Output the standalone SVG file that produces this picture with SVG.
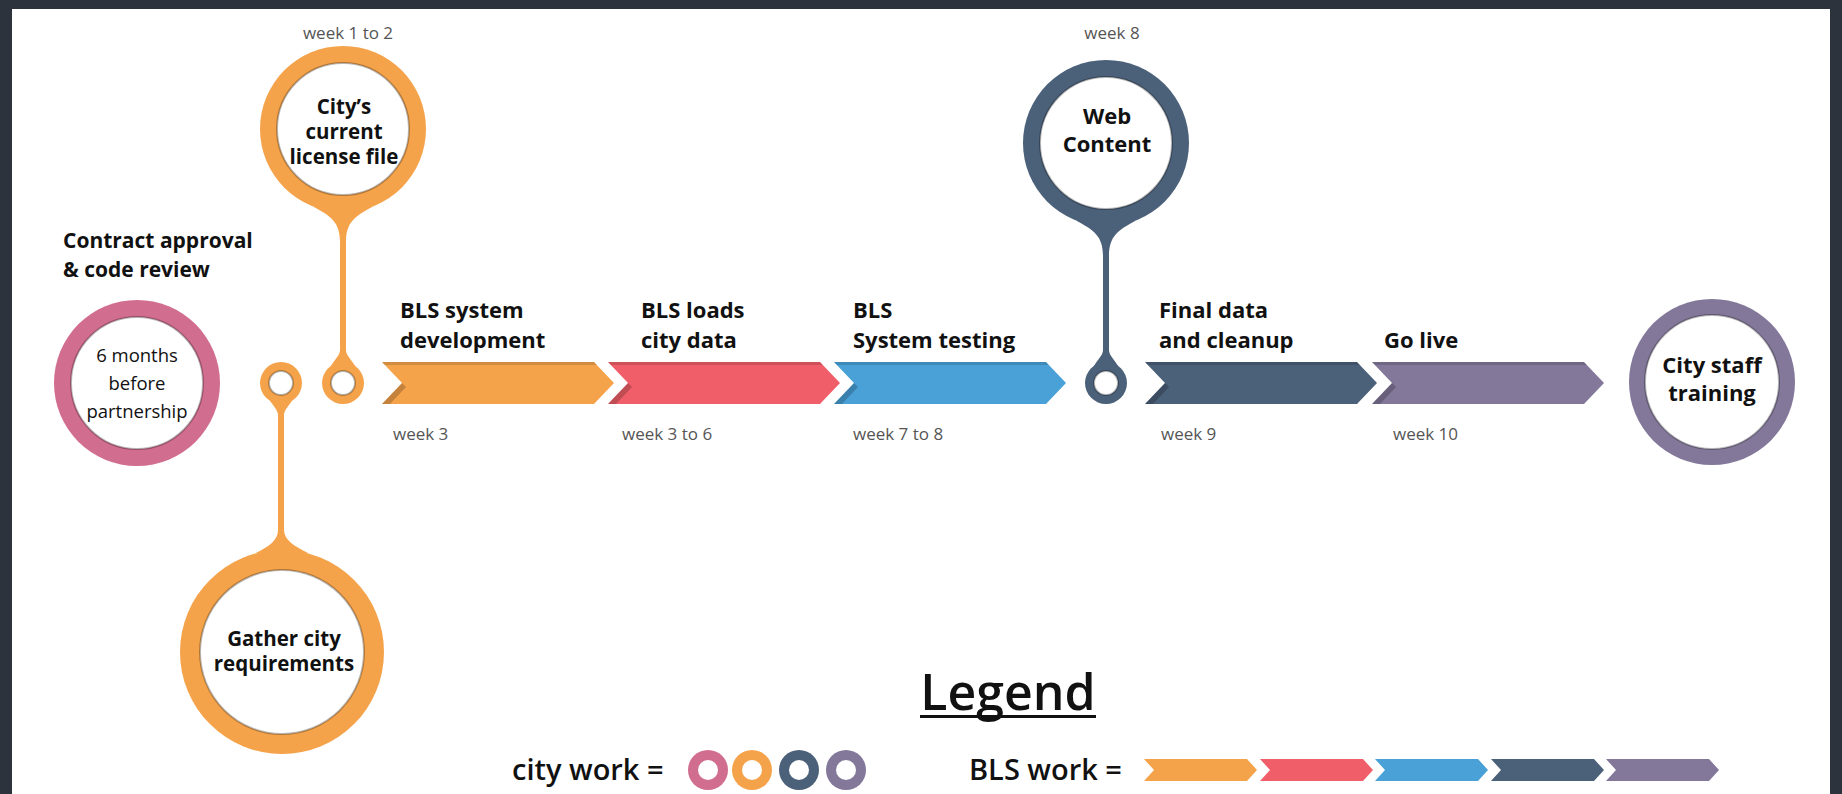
<svg xmlns="http://www.w3.org/2000/svg" width="1842" height="794" viewBox="0 0 1842 794">
<defs>
<style>
.lbl{font-family:"Open Sans","Liberation Sans",sans-serif;font-weight:700;fill:#111;}
.wk{font-family:"Open Sans","Liberation Sans",sans-serif;font-weight:400;fill:#555;font-size:17px;}
.ctr{text-anchor:middle;}
.in{fill:#fff;stroke:#000;stroke-opacity:0.28;stroke-width:2;}
.top{fill:#000;fill-opacity:0.14;}
.fold{fill:#000;fill-opacity:0.2;}
.or{fill:#F5A34B;} .rd{fill:#F05F69;} .bl{fill:#49A1D7;} .sl{fill:#4B6079;} .pu{fill:#83789A;} .pk{fill:#D16D8E;}
</style>
</defs>
<rect width="1842" height="794" fill="#2C333D"/>
<rect x="12" y="9" width="1818" height="785" fill="#fff"/>

<g id="connectors">
  <path class="or" d="M313,206.4 C331,216 340,222 340,242 L340,350 C340,355 335,359 331,366 L355,366 C351,359 346,355 346,350 L346,242 C346,222 355,216 373,206.4 Z"/>
  <path class="or" d="M269,399 C273,406 278,410 278,415 L278,530 C278,540 270,546 255,553.6 L309,553.6 C294,546 284,540 284,530 L284,415 C284,410 289,406 293,399 Z"/>
  <path class="sl" d="M1076,220.4 C1094,230 1103,236 1103,256 L1103,350 C1103,355 1098,359 1094,366 L1118,366 C1114,359 1109,355 1109,350 L1109,256 C1109,236 1118,230 1136,220.4 Z"/>
</g>

<g id="node-contract">
  <text class="lbl" x="63" y="248" font-size="21">Contract approval</text>
  <text class="lbl" x="63" y="277" font-size="21">&amp; code review</text>
  <circle class="pk" cx="137" cy="383" r="83"/>
  <circle class="in" cx="137" cy="383" r="66"/>
  <g class="wk ctr" style="fill:#111;font-size:18.5px">
    <text x="137" y="362">6 months</text>
    <text x="137" y="390">before</text>
    <text x="137" y="418">partnership</text>
  </g>
</g>

<g id="node-license">
  <text class="wk ctr" x="348" y="39">week 1 to 2</text>
  <circle class="or" cx="343" cy="129" r="83"/>
  <circle class="in" cx="343" cy="129" r="66"/>
  <g class="lbl ctr" font-size="20.5">
    <text x="344" y="114">City’s</text>
    <text x="344" y="139">current</text>
    <text x="344" y="164">license file</text>
  </g>
  <circle class="or" cx="343" cy="383" r="21"/>
  <circle class="in" cx="343" cy="383" r="12"/>
</g>

<g id="node-gather">
  <circle class="or" cx="281" cy="383" r="21"/>
  <circle class="in" cx="281" cy="383" r="12"/>
  <circle class="or" cx="282" cy="652" r="102"/>
  <circle class="in" cx="282" cy="652" r="82"/>
  <g class="lbl ctr" font-size="20.5">
    <text x="284" y="646">Gather city</text>
    <text x="284" y="671">requirements</text>
  </g>
</g>

<g id="node-dev">
  <polygon class="or" points="382,362 594,362 614,383 594,404 382,404 402,383"/>
  <polygon class="top" points="382,362 594,362 597,365 385,365"/>
  <polygon class="fold" points="402,383 382,404 390,404 406,387"/>
  <text class="lbl" x="400" y="318" font-size="22">BLS system</text>
  <text class="lbl" x="400" y="348" font-size="22">development</text>
  <text class="wk" x="393" y="440">week 3</text>
</g>

<g id="node-loads">
  <polygon class="rd" points="608,362 820,362 840,383 820,404 608,404 628,383"/>
  <polygon class="top" points="608,362 820,362 823,365 611,365"/>
  <polygon class="fold" points="628,383 608,404 616,404 632,387"/>
  <text class="lbl" x="641" y="318" font-size="22">BLS loads</text>
  <text class="lbl" x="641" y="348" font-size="22">city data</text>
  <text class="wk" x="622" y="440">week 3 to 6</text>
</g>

<g id="node-testing">
  <polygon class="bl" points="834,362 1046,362 1066,383 1046,404 834,404 854,383"/>
  <polygon class="top" points="834,362 1046,362 1049,365 837,365"/>
  <polygon class="fold" points="854,383 834,404 842,404 858,387"/>
  <text class="lbl" x="853" y="318" font-size="22">BLS</text>
  <text class="lbl" x="853" y="348" font-size="22">System testing</text>
  <text class="wk" x="853" y="440">week 7 to 8</text>
</g>

<g id="node-web">
  <text class="wk ctr" x="1112" y="39">week 8</text>
  <circle class="sl" cx="1106" cy="143" r="83"/>
  <circle class="in" cx="1106" cy="143" r="66"/>
  <g class="lbl ctr" font-size="22">
    <text x="1107" y="124">Web</text>
    <text x="1107" y="152">Content</text>
  </g>
  <circle class="sl" cx="1106" cy="383" r="21"/>
  <circle class="in" cx="1106" cy="383" r="12"/>
</g>

<g id="node-cleanup">
  <polygon class="sl" points="1145,362 1357,362 1377,383 1357,404 1145,404 1165,383"/>
  <polygon class="top" points="1145,362 1357,362 1360,365 1148,365"/>
  <polygon class="fold" points="1165,383 1145,404 1153,404 1169,387"/>
  <text class="lbl" x="1159" y="318" font-size="22">Final data</text>
  <text class="lbl" x="1159" y="348" font-size="22">and cleanup</text>
  <text class="wk" x="1161" y="440">week 9</text>
</g>

<g id="node-golive">
  <polygon class="pu" points="1372,362 1584,362 1604,383 1584,404 1372,404 1392,383"/>
  <polygon class="top" points="1372,362 1584,362 1587,365 1375,365"/>
  <polygon class="fold" points="1392,383 1372,404 1380,404 1396,387"/>
  <text class="lbl" x="1384" y="348" font-size="22">Go live</text>
  <text class="wk" x="1393" y="440">week 10</text>
</g>

<g id="node-training">
  <circle class="pu" cx="1712" cy="382" r="83"/>
  <circle class="in" cx="1712" cy="382" r="67"/>
  <g class="lbl ctr" font-size="22">
    <text x="1712" y="373">City staff</text>
    <text x="1712" y="401">training</text>
  </g>
</g>

<g id="legend">
  <text class="lbl ctr" x="1008" y="710" font-size="50" style="font-weight:600">Legend</text>
  <rect x="920" y="715" width="176" height="3" fill="#111"/>
  <text class="lbl" x="512" y="780" font-size="29" style="font-weight:600">city work =</text>
  <g>
    <circle class="pk" cx="708" cy="770" r="20"/><circle fill="#fff" cx="708" cy="770" r="10"/>
    <circle class="or" cx="752" cy="770" r="20"/><circle fill="#fff" cx="752" cy="770" r="10"/>
    <circle class="sl" cx="799" cy="770" r="20"/><circle fill="#fff" cx="799" cy="770" r="10"/>
    <circle class="pu" cx="846" cy="770" r="20"/><circle fill="#fff" cx="846" cy="770" r="10"/>
  </g>
  <text class="lbl" x="969" y="780" font-size="29" style="font-weight:600">BLS work =</text>
  <g>
    <polygon class="or" points="1144,759 1247,759 1257,770 1247,781 1144,781 1154,770"/>
    <polygon class="rd" points="1260,759 1363,759 1373,770 1363,781 1260,781 1270,770"/>
    <polygon class="bl" points="1375,759 1478,759 1488,770 1478,781 1375,781 1385,770"/>
    <polygon class="sl" points="1491,759 1594,759 1604,770 1594,781 1491,781 1501,770"/>
    <polygon class="pu" points="1606,759 1709,759 1719,770 1709,781 1606,781 1616,770"/>
  </g>
</g>
</svg>
